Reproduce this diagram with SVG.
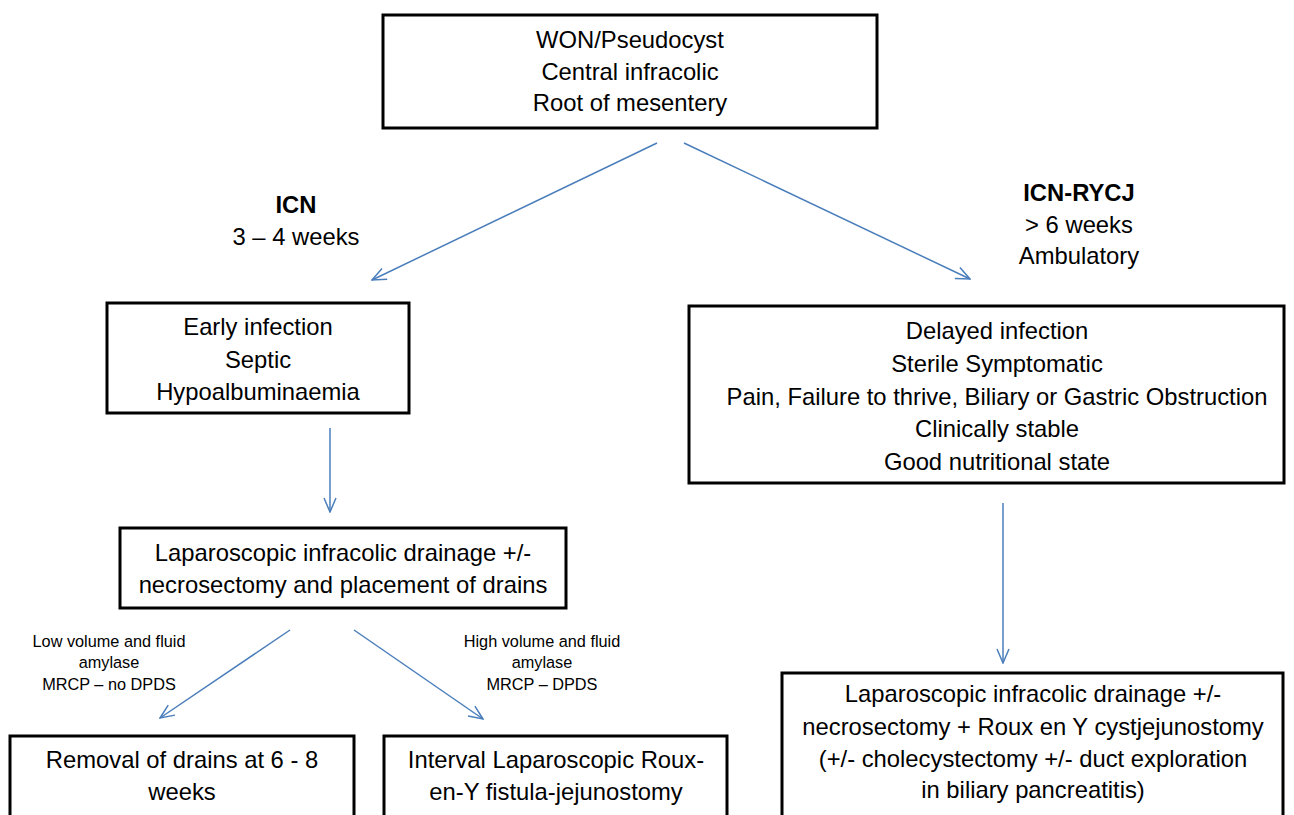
<svg xmlns="http://www.w3.org/2000/svg" width="1294" height="815" viewBox="0 0 1294 815">
<defs>
<marker id="arr" viewBox="0 0 16 14" refX="15" refY="7" markerWidth="16" markerHeight="14" markerUnits="userSpaceOnUse" orient="auto">
<path d="M1,1 L15,7 L1,13" fill="none" stroke="#4a7ebb" stroke-width="1.5"/>
</marker>
</defs>
<style>
.box{fill:#fff;stroke:#000;stroke-width:3}
.t{font-family:"Liberation Sans",Arial,sans-serif;font-size:23.8px;fill:#000;text-anchor:middle}
.b{font-weight:bold}
.s{font-family:"Liberation Sans",Arial,sans-serif;font-size:16.3px;fill:#000;text-anchor:middle}
.c{stroke:#4a7ebb;stroke-width:1.5;fill:none;marker-end:url(#arr)}
</style>
<rect width="1294" height="815" fill="#fff"/>
<g id="connectors">
<line class="c" x1="657" y1="143" x2="372" y2="280"/>
<line class="c" x1="684" y1="143" x2="970" y2="279"/>
<line class="c" x1="330" y1="428" x2="330" y2="512"/>
<line class="c" x1="290" y1="630" x2="160" y2="718"/>
<line class="c" x1="354" y1="630" x2="483" y2="719"/>
<line class="c" x1="1003" y1="503" x2="1003" y2="663"/>
</g>
<g id="label-icn">
<text class="t b" x="296" y="213">ICN</text>
<text class="t" x="296" y="245">3 – 4 weeks</text>
</g>
<g id="label-icn-rycj">
<text class="t b" x="1079" y="201">ICN-RYCJ</text>
<text class="t" x="1079" y="233">&gt; 6 weeks</text>
<text class="t" x="1079" y="264">Ambulatory</text>
</g>
<g id="label-low">
<text class="s" x="109" y="647">Low volume and fluid</text>
<text class="s" x="109" y="668">amylase</text>
<text class="s" x="109" y="690">MRCP – no DPDS</text>
</g>
<g id="label-high">
<text class="s" x="542" y="647">High volume and fluid</text>
<text class="s" x="542" y="668">amylase</text>
<text class="s" x="542" y="690">MRCP – DPDS</text>
</g>
<g id="node-top">
<rect class="box" x="383" y="15" width="494" height="113"/>
<text class="t" x="630" y="48">WON/Pseudocyst</text>
<text class="t" x="630" y="80">Central infracolic</text>
<text class="t" x="630" y="111">Root of mesentery</text>
</g>
<g id="node-early">
<rect class="box" x="107" y="303" width="302" height="110"/>
<text class="t" x="258" y="335">Early infection</text>
<text class="t" x="258" y="368">Septic</text>
<text class="t" x="258" y="400">Hypoalbuminaemia</text>
</g>
<g id="node-delayed">
<rect class="box" x="689" y="306" width="595" height="177"/>
<text class="t" x="997" y="339">Delayed infection</text>
<text class="t" x="997" y="372">Sterile Symptomatic</text>
<text class="t" x="997" y="405">Pain, Failure to thrive, Biliary or Gastric Obstruction</text>
<text class="t" x="997" y="437">Clinically stable</text>
<text class="t" x="997" y="470">Good nutritional state</text>
</g>
<g id="node-lap">
<rect class="box" x="120" y="528" width="446" height="80"/>
<text class="t" x="343" y="561">Laparoscopic infracolic drainage +/-</text>
<text class="t" x="343" y="593">necrosectomy and placement of drains</text>
</g>
<g id="node-removal">
<rect class="box" x="10" y="736" width="344" height="120"/>
<text class="t" x="182" y="768">Removal of drains at 6 - 8</text>
<text class="t" x="182" y="800">weeks</text>
</g>
<g id="node-interval">
<rect class="box" x="384" y="736" width="343" height="120"/>
<text class="t" x="556" y="768">Interval Laparoscopic Roux-</text>
<text class="t" x="556" y="800">en-Y fistula-jejunostomy</text>
</g>
<g id="node-rycj">
<rect class="box" x="782" y="673" width="501" height="183"/>
<text class="t" x="1033" y="702">Laparoscopic infracolic drainage +/-</text>
<text class="t" x="1033" y="735">necrosectomy + Roux en Y cystjejunostomy</text>
<text class="t" x="1033" y="767">(+/- cholecystectomy +/- duct exploration</text>
<text class="t" x="1033" y="798">in biliary pancreatitis)</text>
</g>
</svg>
